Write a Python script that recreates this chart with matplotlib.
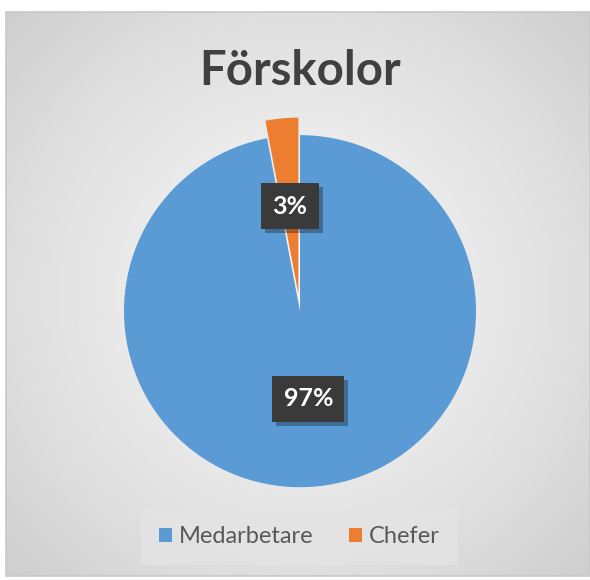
import matplotlib.pyplot as plt
import numpy as np
from matplotlib.patches import Rectangle
import matplotlib.patheffects as pe

# Data
labels = ["Medarbetare", "Chefer"]
values = [97, 3]
colors = ["#5B9BD5", "#ED7D31"]
explode = [0, 0.1]

plt.rcParams['font.family'] = ['Lato', 'DejaVu Sans']

fig = plt.figure(figsize=(5.9, 5.8), dpi=100)

# Background with soft radial gradient inside a frame
bg = fig.add_axes([0, 0, 1, 1])
bg.set_xlim(0, 590)
bg.set_ylim(580, 0)
bg.axis("off")
yy, xx = np.mgrid[0:564, 0:584]
d = np.sqrt(((xx - 292) / 330) ** 2 + ((yy - 282) / 330) ** 2)
grad = np.clip(0.955 - 0.11 * d ** 1.5, 0, 1)
bg.imshow(grad, cmap="gray", vmin=0, vmax=1, extent=[6, 590, 576, 12], aspect="auto")
bg.add_patch(Rectangle((6, 12), 584, 564, fill=False, edgecolor="#c8c8c8", lw=1.2))

fig.text(0.508, 0.878, "Förskolor", ha="center", va="center",
         fontsize=34, fontweight="bold", color="#404040")

# Pie
ax = fig.add_axes([0.21, 0.160, 0.597, 0.607])
wedges, _, autotexts = ax.pie(values, colors=colors, explode=explode,
                              startangle=90, counterclock=False,
                              autopct="%1.0f%%", pctdistance=0.50,
                              wedgeprops=dict(linewidth=0))
ax.set_xlim(-1, 1)
ax.set_ylim(-1, 1)
for w in wedges:
    w.set_clip_on(False)
for t in autotexts:
    t.set_color("white")
    t.set_fontsize(18)
    t.set_fontweight("bold")
    t.set_bbox(dict(boxstyle="square,pad=0.45", facecolor="#3a3a3a", edgecolor="none"))
    t.get_bbox_patch().set_path_effects([
        pe.SimplePatchShadow(offset=(3, -3), shadow_rgbFace="black", alpha=0.3),
        pe.Normal()])
ax.set_aspect("equal")

leg = fig.legend(wedges, labels, loc="center", bbox_to_anchor=(0.508, 0.0745),
                 ncol=2, frameon=True, fontsize=17, handlelength=0.55, handleheight=0.55,
                 handletextpad=0.3, columnspacing=1.5, borderpad=0.45)
leg.get_frame().set_facecolor("#e4e4e4")
leg.get_frame().set_edgecolor("none")
leg.get_frame().set_boxstyle("square")
for t in leg.get_texts():
    t.set_color("#595959")

fig.savefig("out.png", dpi=100)
